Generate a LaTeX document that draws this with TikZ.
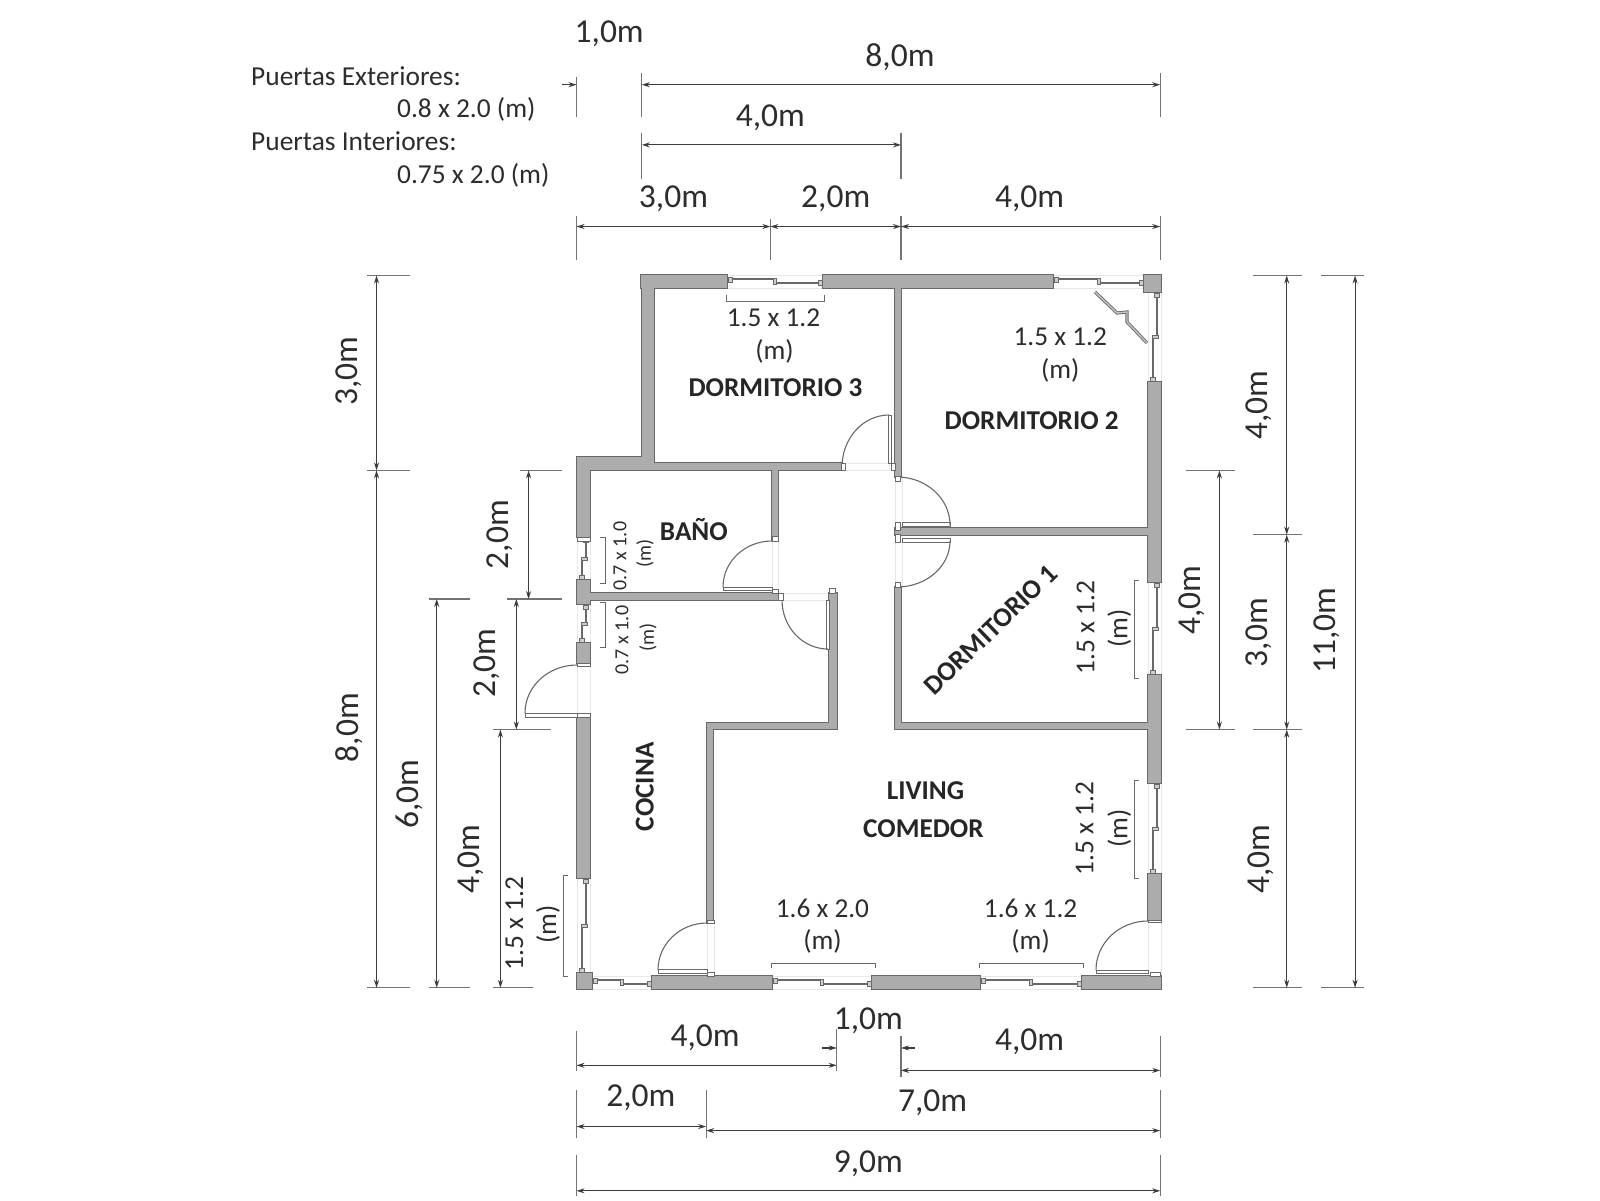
\documentclass[tikz,border=0pt]{standalone}
\usepackage{fontspec}
\setmainfont{Carlito}
\usetikzlibrary{calc,arrows.meta}
\definecolor{wallfill}{RGB}{172,172,172}
\definecolor{walledge}{RGB}{105,105,105}
\definecolor{inkc}{RGB}{45,45,45}
\definecolor{linec}{RGB}{60,60,60}
\definecolor{tickc}{RGB}{115,115,115}
\definecolor{framec}{RGB}{232,232,232}
\tikzset{
  dimtext/.style={font=\fontsize{33.5}{35}\selectfont,text=inkc,inner sep=0pt},
  sizetext/.style={font=\fontsize{27.3}{29}\selectfont,text=inkc,inner sep=0pt},
  smalltext/.style={font=\fontsize{20}{22}\selectfont,text=inkc,inner sep=0pt},
  notetext/.style={font=\fontsize{27.4}{29}\selectfont,text=inkc,inner sep=0pt,anchor=west},
  roomtext/.style={font=\fontsize{27.2}{29}\selectfont\bfseries,text=black!85,inner sep=0pt},
  dimline/.style={draw=linec,line width=1.1pt,{Stealth[length=8pt,width=5pt]}-{Stealth[length=8pt,width=5pt]}},
  dimhalf/.style={draw=linec,line width=1.1pt,-{Stealth[length=8pt,width=5pt]}},
  tickl/.style={draw=tickc,line width=1.1pt},
  doorline/.style={draw=walledge,line width=1.1pt},
  leaf/.style={draw=walledge,fill=white,line width=1pt},
  framel/.style={draw=framec,line width=1pt},
  winl/.style={draw=walledge,line width=1.2pt},
  winbox/.style={draw=walledge,fill=wallfill!60,line width=.9pt},
  bracket/.style={draw=walledge,line width=1pt}
}
\newcommand{\winbody}[1]{%
  \pgfmathsetmacro{\wl}{#1}\pgfmathsetmacro{\wm}{(#1)/2}%
  \draw[framel] (0,0) rectangle (\wl,13);
  \draw[winl] (5,4) -- (\wm,4);
  \draw[winl] (\wm,8) -- (\wl-5,8);
  \draw[winbox] (\wm-1.5,3) rectangle (\wm+1.5,9);
  \draw[winbox] (1,2) rectangle (5,7);
  \draw[winbox] (\wl-5,5.5) rectangle (\wl-1,10.5);
}
\newcommand{\hwin}[3]{\begin{scope}[shift={(#1,#3)}]\winbody{#2-#1}\end{scope}}
\newcommand{\vwin}[3]{\begin{scope}[shift={(#3,#1)},x={(0pt,-1pt)},y={(-1pt,0pt)}]\winbody{#2-#1}\end{scope}}
\newcommand{\doorarc}[3]{\draw[doorline] (#1) .. controls ($(#1)+0.5523*(#3)-0.5523*(#2)$) and ($(#3)+0.5523*(#1)-0.5523*(#2)$) .. (#3);}
\begin{document}
\begin{tikzpicture}[x=1pt,y=-1pt]
\useasboundingbox (0,0) rectangle (1600,1200);
\fill[white] (0,0) rectangle (1600,1200);

% faint door openings
\foreach \a/\b/\c/\d in {841/463/889/470, 895/476/902/585, 772/540/778/593, 778/593/829/600, 577/663/590/717, 1148/920/1161/976, 707/923/714/976}
  \draw[framel] (\a,\b) rectangle (\c,\d);

% windows
\hwin{727}{823}{275}
\hwin{1053}{1144}{275}
\hwin{772}{872}{976}
\hwin{980}{1082}{976}
\hwin{592}{652}{976}
\vwin{292}{382}{1161}
\vwin{582}{675}{1161}
\vwin{783}{874}{1161}
\vwin{878}{973}{590}
\vwin{537}{580}{590}
\vwin{604}{643}{590}

% walls
\def\walllist{641/275/727/288, 823/275/1053/288, 1144/275/1161/292,
 642/275/654/470, 577/457/642/470, 654/463/841/470, 895/288/901/477,
 577/457/590/537, 772/470/778/540, 577/580/590/604, 590/593/778/600,
 577/643/590/663, 577/717/590/878, 829/593/837/729, 707/723/837/729,
 707/723/713/923, 577/973/592/989, 652/976/772/989, 872/976/980/989,
 1082/976/1161/989, 1148/382/1161/582, 1148/675/1161/783, 1148/874/1161/920,
 895/528/1148/535, 895/587/901/729, 895/723/1148/729}
\foreach \a/\b/\c/\d in \walllist
  \draw[draw=walledge,fill=walledge,line width=1.4pt] (\a,\b) rectangle (\c,\d);
\foreach \a/\b/\c/\d in \walllist
  \fill[wallfill] (\a,\b) rectangle (\c,\d);

% casement leaf of the dormitorio 2 window
\draw[draw=walledge,line width=3.2pt] (1095,292) -- (1117,313) -- (1127,312) -- (1127,322) -- (1147,343);
\draw[draw=wallfill!70,line width=1.4pt] (1095,292) -- (1117,313) -- (1127,312) -- (1127,322) -- (1147,343);

% door leaves
\draw[leaf] (888,415) rectangle (891,463);
\draw[leaf] (902,522) rectangle (950,526);
\draw[leaf] (902,538) rectangle (950,542);
\draw[leaf] (1096,970) rectangle (1148,973);
\draw[leaf] (658,969) rectangle (707,973);
\draw[leaf] (723,587) rectangle (772,590);
\draw[leaf] (525,713) rectangle (577,717);
\draw[leaf] (826,600) rectangle (829,649);
% door swings
\doorarc{889,415}{889,467}{842,467}
\doorarc{897,477}{897,525}{950,525}
\doorarc{950,541}{897,541}{897,587}
\doorarc{1148,921}{1148,970}{1096,970}
\doorarc{707,923}{707,970}{658,970}
\doorarc{772,541}{772,587}{723,587}
\doorarc{577,665}{577,713}{525,713}
\doorarc{782,600}{828,600}{828,649}
% jamb stubs
\foreach \a/\b/\c/\d in {841/463/845/470, 891/463/895/470, 895/476/900/481, 895/582/900/587, 895/522/900/530, 895/534/900/542,
  772/536/778/541, 772/589/778/593, 778/593/783/600, 829/588/835/593, 577/537/590/541, 577/663/590/666, 577/713/590/717,
  1148/920/1161/922, 1150/972/1160/976, 707/920/714/923, 707/972/714/976}
  \draw[draw=walledge,fill=white,line width=.8pt] (\a,\b) rectangle (\c,\d);

% size brackets
\draw[bracket] (726,295) -- (726,301) -- (824,301) -- (824,295);
\draw[bracket] (771,968) -- (771,963) -- (875,963) -- (875,968);
\draw[bracket] (979,968) -- (979,963) -- (1083,963) -- (1083,968);
\draw[bracket] (568,875) -- (563,875) -- (563,976) -- (568,976);
\draw[bracket] (1139,580) -- (1134,580) -- (1134,678) -- (1139,678);
\draw[bracket] (1139,780) -- (1134,780) -- (1134,878) -- (1139,878);
\draw[bracket] (600,537) -- (605,537) -- (605,583) -- (600,583);
\draw[bracket] (600,602) -- (605,602) -- (605,647) -- (600,647);

% small labels in true pixels
\node[smalltext,rotate=90] (ta) at (620,556) {0.7 x 1.0};
\node[smalltext,rotate=90] (tb) at (645,553) {(m)};
\node[smalltext,rotate=90] (tc) at (622,640) {0.7 x 1.0};
\node[smalltext,rotate=90] (td) at (648,637) {(m)};

\begin{scope}[x=1.0204pt,y=-1.0204pt]
% notes
\node[notetext] (n1) at (246,75) {Puertas Exteriores:};
\node[notetext] (n2) at (389,107) {0.8 x 2.0 (m)};
\node[notetext] (n3) at (246,138) {Puertas Interiores:};
\node[notetext] (n4) at (389,172) {0.75 x 2.0 (m)};

% top dimensions
\draw[tickl] (565,75) -- (565,115);
\draw[dimhalf] (551,83) -- (565,83);
\draw[tickl] (629,72) -- (629,115);
\draw[tickl] (1137,72) -- (1137,115);
\draw[dimline] (629,83) -- (1137,83);
\draw[tickl] (629,130) -- (629,175);
\draw[tickl] (883,130) -- (883,175);
\draw[dimline] (629,142) -- (883,142);
\draw[tickl] (565,212) -- (565,255);
\draw[tickl] (755,215) -- (755,255);
\draw[tickl] (883,212) -- (883,255);
\draw[tickl] (1137,212) -- (1137,255);
\draw[dimline] (565,222) -- (755,222);
\draw[dimline] (755,222) -- (883,222);
\draw[dimline] (883,222) -- (1137,222);
\node[dimtext] (d1) at (597,33) {1,0m};
\node[dimtext] (d2) at (882,56) {8,0m};
\node[dimtext] (d3) at (755,115) {4,0m};
\node[dimtext] (d4) at (660,195) {3,0m};
\node[dimtext] (d5) at (819,195) {2,0m};
\node[dimtext] (d6) at (1009,195) {4,0m};

% left dimensions
\draw[tickl] (360,270) -- (402,270);
\draw[tickl] (360,461) -- (402,461);
\draw[tickl] (360,968) -- (402,968);
\draw[dimline] (369,270) -- (369,461);
\draw[dimline] (369,461) -- (369,968);
\draw[tickl] (510,461) -- (551,461);
\draw[tickl] (497,587) -- (551,587);
\draw[dimline] (518,461) -- (518,587);
\draw[dimline] (506,587) -- (506,715);
\draw[tickl] (497,715) -- (540,715);
\draw[tickl] (420,587) -- (461,587);
\draw[tickl] (420,968) -- (461,968);
\draw[dimline] (428,587) -- (428,968);
\draw[tickl] (483,715) -- (522,715);
\draw[tickl] (483,968) -- (522,968);
\draw[dimline] (490.4,715) -- (490.4,968);
\node[dimtext,rotate=90] (l1) at (342,364) {3,0m};
\node[dimtext,rotate=90] (l2) at (342,713) {8,0m};
\node[dimtext,rotate=90] (l3) at (490,524) {2,0m};
\node[dimtext,rotate=90] (l4) at (477,650) {2,0m};
\node[dimtext,rotate=90] (l5) at (401,778) {6,0m};
\node[dimtext,rotate=90] (l6) at (461,842) {4,0m};

% right dimensions
\draw[tickl] (1228,270) -- (1276,270);
\draw[tickl] (1228,524) -- (1276,524);
\draw[tickl] (1228,715) -- (1276,715);
\draw[tickl] (1228,968) -- (1276,968);
\draw[dimline] (1261,270) -- (1261,524);
\draw[dimline] (1261,524) -- (1261,715);
\draw[dimline] (1261,715) -- (1261,968);
\draw[tickl] (1295,270) -- (1337,270);
\draw[tickl] (1295,968) -- (1337,968);
\draw[dimline] (1328,270) -- (1328,968);
\draw[tickl] (1162,461) -- (1210,461);
\draw[tickl] (1162,715) -- (1210,715);
\draw[dimline] (1195,461) -- (1195,715);
\node[dimtext,rotate=90] (r1) at (1234,397) {4,0m};
\node[dimtext,rotate=90] (r2) at (1234,620) {3,0m};
\node[dimtext,rotate=90] (r3) at (1236,842) {4,0m};
\node[dimtext,rotate=90] (r4) at (1300,618) {11,0m};
\node[dimtext,rotate=90] (r5) at (1168,588) {4,0m};

% bottom dimensions
\draw[tickl] (565,1010) -- (565,1050);
\draw[tickl] (820,1008) -- (820,1050);
\draw[dimline] (565,1044) -- (820,1044);
\draw[dimhalf] (806,1027) -- (820,1027);
\draw[dimhalf] (897,1027) -- (883,1027);
\draw[tickl] (883,1015) -- (883,1055);
\draw[tickl] (1137,1015) -- (1137,1055);
\draw[dimline] (883,1049) -- (1137,1049);
\draw[tickl] (565,1068) -- (565,1115);
\draw[tickl] (692,1068) -- (692,1115);
\draw[tickl] (1137,1068) -- (1137,1115);
\draw[dimline] (565,1104) -- (692,1104);
\draw[dimline] (692,1108) -- (1137,1108);
\draw[tickl] (565,1132) -- (565,1172);
\draw[tickl] (1137,1132) -- (1137,1172);
\draw[dimline] (565,1167) -- (1137,1167);
\node[dimtext] (b1) at (691,1017) {4,0m};
\node[dimtext] (b2) at (851,1000) {1,0m};
\node[dimtext] (b3) at (1009,1021) {4,0m};
\node[dimtext] (b4) at (628,1076) {2,0m};
\node[dimtext] (b5) at (914,1081) {7,0m};
\node[dimtext] (b6) at (851,1140) {9,0m};

% room names
\node[roomtext] (rm3) at (760,380) {DORMITORIO 3};
\node[roomtext] (rm2) at (1011,412) {DORMITORIO 2};
\node[roomtext] (rmb) at (680,519) {BAÑO};
\node[roomtext,rotate=44] (rm1) at (971,617) {DORMITORIO 1};
\node[roomtext] (rml) at (907,775) {LIVING};
\node[roomtext] (rmc) at (905,812) {COMEDOR};
\node[roomtext,rotate=90] (rmk) at (632,771) {COCINA};

% window sizes
\node[sizetext] (s1) at (758,311) {1.5 x 1.2};
\node[sizetext] (s2) at (759,344) {(m)};
\node[sizetext] (s3) at (1039,330) {1.5 x 1.2};
\node[sizetext] (s4) at (1039,363) {(m)};
\node[sizetext,rotate=90] (s5) at (1064,615) {1.5 x 1.2};
\node[sizetext,rotate=90] (s6) at (1097,616) {(m)};
\node[sizetext,rotate=90] (s7) at (1063,812) {1.5 x 1.2};
\node[sizetext,rotate=90] (s8) at (1097,812) {(m)};
\node[sizetext,rotate=90] (s9) at (504,905) {1.5 x 1.2};
\node[sizetext,rotate=90] (s10) at (537,906) {(m)};
\node[sizetext] (s11) at (806,890) {1.6 x 2.0};
\node[sizetext] (s12) at (806,923) {(m)};
\node[sizetext] (s13) at (1010,890) {1.6 x 1.2};
\node[sizetext] (s14) at (1010,923) {(m)};
\end{scope}
\end{tikzpicture}
\end{document}
